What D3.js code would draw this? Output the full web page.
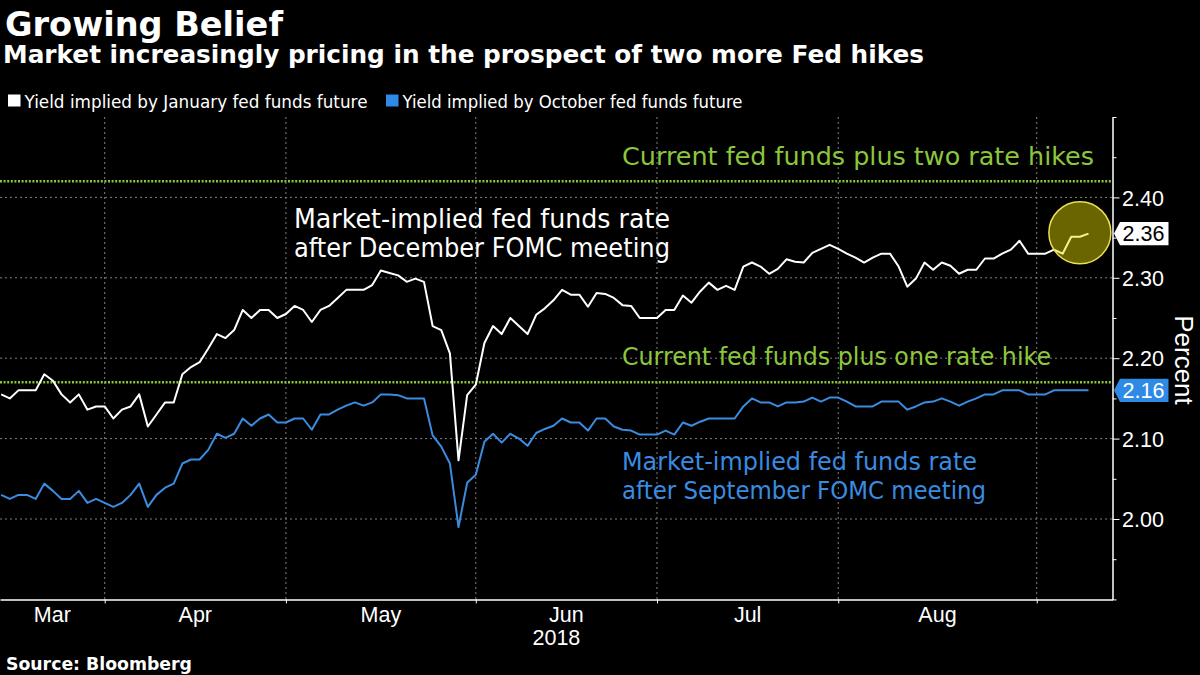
<!DOCTYPE html>
<html><head><meta charset="utf-8">
<script src="https://cdn.jsdelivr.net/npm/d3@7"></script>
<style>
html,body{margin:0;padding:0;background:#000;}
svg{display:block;}
</style></head><body>
<svg id="c" width="1200" height="675"></svg>
<script>
// ---------- data ----------
const title = "Growing Belief";
const subtitle = "Market increasingly pricing in the prospect of two more Fed hikes";
const seriesNames = ["Yield implied by January fed funds future", "Yield implied by October fed funds future"];
const monthLabels = ["Mar","Apr","May","Jun","Jul","Aug"];
// trading-day index of first session of Apr, May, Jun, Jul, Aug, Sep 2018
const monthStartIdx = [12, 33, 55, 76, 97, 120];
const yearLabel = "2018";
const yTickValues = [1.90,1.95,2.00,2.05,2.10,2.15,2.20,2.25,2.30,2.35,2.40,2.45,2.50];
const yLabelValues = [2.00,2.10,2.20,2.30,2.40];
// January fed funds future implied yield (white)
const januaryFuture = [
2.155,2.150,2.160,2.160,2.160,2.180,2.172,2.155,2.145,2.155,
2.136,2.140,2.140,2.125,2.136,2.140,2.155,2.115,2.130,2.145,
2.145,2.180,2.189,2.195,2.212,2.230,2.225,2.235,2.260,2.250,
2.260,2.260,2.250,2.255,2.265,2.260,2.245,2.260,2.265,2.275,
2.285,2.285,2.285,2.291,2.309,2.306,2.303,2.295,2.299,2.295,
2.240,2.235,2.206,2.073,2.154,2.167,2.219,2.240,2.230,2.250,
2.240,2.230,2.254,2.262,2.272,2.285,2.279,2.279,2.264,2.281,
2.280,2.275,2.266,2.265,2.250,2.250,2.250,2.260,2.260,2.278,
2.269,2.283,2.294,2.285,2.290,2.285,2.314,2.319,2.314,2.305,
2.311,2.323,2.320,2.319,2.331,2.336,2.341,2.336,2.330,2.325,
2.319,2.325,2.330,2.330,2.314,2.289,2.299,2.319,2.310,2.319,
2.315,2.305,2.310,2.310,2.324,2.324,2.330,2.335,2.346,2.330,
2.330,2.330,2.335,2.330,2.351,2.351,2.355];
// October fed funds future implied yield (blue)
const octoberFuture = [
2.030,2.025,2.030,2.030,2.025,2.044,2.035,2.025,2.025,2.035,
2.020,2.025,2.020,2.015,2.020,2.030,2.044,2.015,2.030,2.039,
2.044,2.069,2.074,2.074,2.086,2.106,2.101,2.106,2.125,2.116,
2.125,2.130,2.120,2.120,2.125,2.125,2.111,2.130,2.130,2.136,
2.141,2.145,2.141,2.145,2.155,2.155,2.154,2.150,2.150,2.150,
2.104,2.090,2.069,1.990,2.045,2.055,2.096,2.106,2.095,2.106,
2.100,2.091,2.107,2.112,2.116,2.125,2.120,2.120,2.110,2.125,
2.125,2.115,2.111,2.110,2.105,2.105,2.105,2.110,2.105,2.120,
2.116,2.121,2.125,2.125,2.125,2.125,2.140,2.150,2.145,2.145,
2.140,2.145,2.145,2.146,2.151,2.146,2.151,2.151,2.146,2.140,
2.140,2.140,2.146,2.146,2.146,2.136,2.140,2.145,2.146,2.150,
2.146,2.141,2.146,2.150,2.155,2.155,2.160,2.160,2.160,2.155,
2.155,2.155,2.160,2.160,2.160,2.160,2.160];
const lastValueLabels = ["2.36", "2.16"];
const refLineValues = [2.42, 2.17];
const refLineLabels = ["Current fed funds plus two rate hikes", "Current fed funds plus one rate hike"];
const whiteNote = ["Market-implied fed funds rate", "after December FOMC meeting"];
const blueNote = ["Market-implied fed funds rate", "after September FOMC meeting"];
const highlight = {index: 125, value: 2.356};
const source = "Source: Bloomberg";

// ---------- styles ----------
const C = {bg:"#000", white:"#ffffff", blue:"#3a8ce0", blueTag:"#2f8ae6", green:"#8cc63c", grid:"#808080"};
const SANS = "'DejaVu Sans', sans-serif";
const NUM = "'Liberation Sans', Arial, sans-serif";

const svg = d3.select("#c");
svg.append("rect").attr("width",1200).attr("height",675).attr("fill",C.bg);

const x = d3.scaleLinear().domain([-0.132, 128.78]).range([0, 1112.5]);
const y = d3.scaleLinear().domain([1.90, 2.50]).range([599.4, 117]);

// ---------- grid ----------
const grid = svg.append("g");
grid.selectAll("line.h").data(yLabelValues).join("line")
  .attr("x1",0).attr("x2",1112.5).attr("y1",d=>y(d)).attr("y2",d=>y(d))
  .attr("stroke",C.grid).attr("stroke-width",1).attr("stroke-dasharray","2,3");
grid.selectAll("line.v").data(monthStartIdx).join("line")
  .attr("x1",d=>x(d)).attr("x2",d=>x(d)).attr("y1",y(2.50)).attr("y2",y(1.90))
  .attr("stroke",C.grid).attr("stroke-width",1).attr("stroke-dasharray","2,3");

// ---------- reference lines ----------
svg.append("g").selectAll("line").data(refLineValues).join("line")
  .attr("x1",0).attr("x2",1112.5).attr("y1",d=>y(d)).attr("y2",d=>y(d))
  .attr("stroke",C.green).attr("stroke-width",2.6).attr("stroke-dasharray","2,1.6");

// ---------- series ----------
const line = d3.line().x((d,i)=>x(i)).y(d=>y(d));
svg.append("path").datum(octoberFuture).attr("d",line)
  .attr("fill","none").attr("stroke",C.blue).attr("stroke-width",2).attr("stroke-linejoin","round");
svg.append("path").datum(januaryFuture).attr("d",line)
  .attr("fill","none").attr("stroke",C.white).attr("stroke-width",2).attr("stroke-linejoin","round");

// highlight circle
svg.append("circle").attr("cx",x(highlight.index)).attr("cy",y(highlight.value)).attr("r",31)
  .attr("fill","rgba(235,225,0,0.45)").attr("stroke","#e8df55").attr("stroke-width",1.5);

// ---------- axes ----------
const xAxis = d3.axisBottom(x).tickValues(monthStartIdx).tickFormat("").tickSize(4).tickSizeOuter(0);
const gx = svg.append("g").attr("transform","translate(0,599.4)").call(xAxis);
gx.select(".domain").attr("stroke",C.white).attr("stroke-width",1.5);
gx.selectAll(".tick line").attr("stroke",C.white);

const yAxis = d3.axisRight(y).tickValues(yTickValues).tickSizeOuter(0)
  .tickFormat(d => yLabelValues.some(v=>Math.abs(v-d)<1e-6) ? d3.format(".2f")(d) : "");
const gy = svg.append("g").attr("transform","translate(1112.5,0)").call(yAxis);
gy.select(".domain").attr("stroke",C.white).attr("stroke-width",1.5);
gy.selectAll(".tick line").attr("stroke",C.white)
  .attr("x2", d => yLabelValues.some(v=>Math.abs(v-d)<1e-6) ? 7 : 4);
gy.selectAll(".tick text").attr("fill",C.white).attr("x",9.5).attr("dy","0.36em")
  .style("font-family",NUM).style("font-size","21.5px").attr("text-anchor","start");

// month labels centered between boundaries
const bounds = [x.domain()[0]].concat(monthStartIdx);
svg.append("g").selectAll("text").data(monthLabels).join("text")
  .attr("x",(d,i)=> (x(bounds[i]) + x(bounds[i+1]))/2).attr("y",621.7)
  .attr("text-anchor","middle").attr("fill",C.white)
  .style("font-family",NUM).style("font-size","21.5px").text(d=>d);
svg.append("text").attr("x",(x(monthStartIdx[2])+x(monthStartIdx[3]))/2 - 10).attr("y",645)
  .attr("text-anchor","middle").attr("fill",C.white)
  .style("font-family",NUM).style("font-size","21.5px").text(yearLabel);

// Percent
svg.append("text").attr("transform","translate(1175,360) rotate(90)")
  .attr("text-anchor","middle").attr("fill",C.white)
  .style("font-family",NUM).style("font-size","26px").text("Percent");

// last value tags
const lastVals = [januaryFuture[januaryFuture.length-1], octoberFuture[octoberFuture.length-1]];
const tagFill = [C.white, C.blueTag], tagText = ["#000", C.white];
lastVals.forEach((v,k)=>{
  const vy = y(v), h = 11.7;
  svg.append("path").attr("d",`M1114,${vy} L1120,${vy-h} H1168.5 V${vy+h} H1120 Z`).attr("fill",tagFill[k]);
  svg.append("text").attr("x",1122.5).attr("y",vy).attr("dy","0.36em").attr("fill",tagText[k])
    .style("font-family",NUM).style("font-size","21.5px").text(lastValueLabels[k]);
});

// ---------- annotations ----------
function fitText(sel, w){ sel.attr("textLength", w).attr("lengthAdjust","spacingAndGlyphs"); }
const refLabelY = [165, 365], refLabelW = [472, 429];
refLineLabels.forEach((t,k)=>{
  svg.append("text").attr("x",622).attr("y",refLabelY[k]).attr("fill",C.green)
    .style("font-family",SANS).style("font-size","25px").text(t).call(fitText, refLabelW[k]);
});
const whiteW = [376, 376];
whiteNote.forEach((t,k)=>{
  svg.append("text").attr("x",294).attr("y",228.3 + k*28.4).attr("fill",C.white)
    .style("font-family",SANS).style("font-size","26px").text(t).call(fitText, whiteW[k]);
});
const blueW = [355, 364];
blueNote.forEach((t,k)=>{
  svg.append("text").attr("x",622).attr("y",470 + k*28.6).attr("fill",C.blue)
    .style("font-family",SANS).style("font-size","25px").text(t).call(fitText, blueW[k]);
});

// ---------- titles, legend, source ----------
svg.append("text").attr("x",5).attr("y",36).attr("fill",C.white)
  .style("font-family",SANS).style("font-weight","bold").style("font-size","34px").text(title)
  .call(fitText, 278);
svg.append("text").attr("x",3).attr("y",63.3).attr("fill",C.white)
  .style("font-family",SANS).style("font-weight","bold").style("font-size","24.7px").text(subtitle)
  .call(fitText, 921);

const legX = [8, 386], legColors = [C.white, C.blueTag], legW = [343, 340];
seriesNames.forEach((t,k)=>{
  svg.append("rect").attr("x",legX[k]).attr("y",94.5).attr("width",12.5).attr("height",12).attr("fill",legColors[k]);
  svg.append("text").attr("x",legX[k]+16.5).attr("y",108).attr("fill",C.white)
    .style("font-family",SANS).style("font-size","16.8px").text(t).call(fitText, legW[k]);
});

svg.append("text").attr("x",6).attr("y",670).attr("fill",C.white)
  .style("font-family",SANS).style("font-weight","bold").style("font-size","17.3px").text(source);
</script>
</body></html>
